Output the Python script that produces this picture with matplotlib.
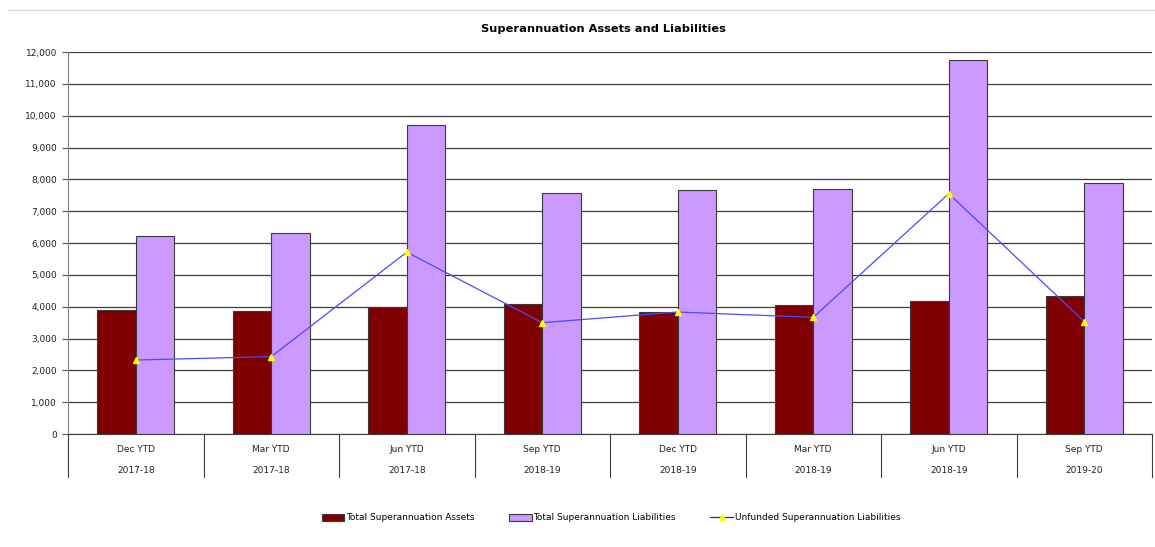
#! /usr/bin/env python3

'''
Superannuation assets and liabilities, grouped bars with unfunded line.
'''

import numpy as np
import matplotlib
matplotlib.use('Agg')
import matplotlib.pyplot as plt
import matplotlib.transforms as transforms
from matplotlib.lines import Line2D
from matplotlib.patches import Patch
from matplotlib.ticker import FuncFormatter

periods = ['Dec YTD', 'Mar YTD', 'Jun YTD', 'Sep YTD',
           'Dec YTD', 'Mar YTD', 'Jun YTD', 'Sep YTD']
years = ['2017-18', '2017-18', '2017-18', '2018-19',
         '2018-19', '2018-19', '2018-19', '2019-20']
assets = [3896, 3874, 4005, 4084, 3823, 4043, 4190, 4345]
liabilities = [6220, 6305, 9718, 7581, 7655, 7707, 11740, 7876]
unfunded = [2324, 2431, 5713, 3497, 3832, 3664, 7550, 3531]

ASSET_COLOR = '#800000'
LIAB_COLOR = '#CC99FF'
LINE_COLOR = '#4a4aff'
EDGE = '#3a3a3a'
FS = 6.5

plt.rcParams['font.family'] = ['DejaVu Sans']

fig = plt.figure(figsize=(11.55, 5.47), dpi=100)
ax = fig.add_axes([68 / 1155, 1 - 434 / 547, (1152 - 68) / 1155, 382 / 547])

x = np.arange(len(periods))
width = 0.284

ax.bar(x - width / 2, assets, width, color=ASSET_COLOR,
       edgecolor=EDGE, linewidth=0.8, zorder=3)
ax.bar(x + width / 2, liabilities, width, color=LIAB_COLOR,
       edgecolor=EDGE, linewidth=0.8, zorder=3)
ax.plot(x, unfunded, color=LINE_COLOR, linewidth=0.9, marker='^',
        markersize=4.2, markerfacecolor='#FFFF00', markeredgecolor='#FFFF00',
        zorder=4)

ax.set_xlim(-0.5, len(periods) - 0.5)
ax.set_ylim(0, 12000)
ax.set_yticks(np.arange(0, 12001, 1000))
ax.yaxis.set_major_formatter(FuncFormatter(lambda v, p: f'{int(v):,}'))
ax.tick_params(axis='y', labelsize=FS, length=4, width=0.8,
               color='#555555', pad=4, labelcolor='#222222')
ax.set_xticks([])
ax.grid(axis='y', color='#3c3c3c', linewidth=0.9, zorder=0)

for spine in 'right', 'top':
    ax.spines[spine].set_color('none')
ax.spines['left'].set_color('#808080')
ax.spines['bottom'].set_color('#3c3c3c')

# category axis: two rows of labels with vertical separators
trans = transforms.blended_transform_factory(ax.transData, ax.transAxes)
for i, (p, yr) in enumerate(zip(periods, years)):
    ax.text(i, -0.04, p, transform=trans, ha='center', va='center',
            fontsize=FS, color='#222222')
    ax.text(i, -0.096, yr, transform=trans, ha='center', va='center',
            fontsize=FS, color='#222222')
for b in np.arange(-0.5, len(periods), 1.0):
    ax.plot([b, b], [0, -0.1126], transform=trans, color='#3c3c3c',
            linewidth=0.8, clip_on=False)

fig.text(603 / 1155, 1 - 29 / 547, 'Superannuation Assets and Liabilities',
         ha='center', va='center', fontsize=8.2, fontweight='bold')

# thin frame line at the top
fig.add_artist(Line2D([8 / 1155, 1], [1 - 10 / 547, 1 - 10 / 547],
                      color='#d9d9d9', linewidth=1))

handles = [Patch(facecolor=ASSET_COLOR, edgecolor=EDGE, linewidth=0.8),
           Patch(facecolor=LIAB_COLOR, edgecolor=EDGE, linewidth=0.8),
           Line2D([], [], color='#2020ff', linewidth=0.9, marker='^',
                  markersize=4.2, markerfacecolor='#FFFF00',
                  markeredgecolor='#FFFF00')]
labels = ['Total Superannuation Assets', 'Total Superannuation Liabilities',
          'Unfunded Superannuation Liabilities']
fig.legend(handles, labels, loc='center', ncol=3,
           bbox_to_anchor=(611 / 1155, 1 - 518 / 547), frameon=False,
           fontsize=FS, handlelength=2.5, handleheight=0.9,
           handletextpad=0.2, columnspacing=3.8)

fig.savefig('out.png', dpi=100)
plt.close('all')
